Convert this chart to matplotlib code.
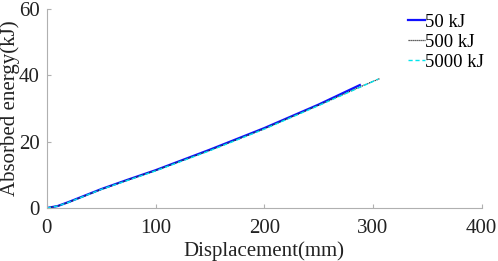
import matplotlib
matplotlib.use("Agg")
import matplotlib.pyplot as plt

plt.rcParams['font.family'] = ['Liberation Serif', 'DejaVu Serif']

# displacement (mm) and absorbed energy (kJ)
disp_50 = [0, 10, 20, 30, 40, 50, 75, 100, 150, 200, 250, 288]
energy_50 = [0, 0.6, 1.8, 3.1, 4.4, 5.7, 8.6, 11.4, 17.6, 24.1, 31.2, 37.1]

disp_500 = [0, 10, 20, 30, 40, 50, 75, 100, 150, 200, 250, 290, 306]
energy_500 = [0, 0.6, 1.7, 3.0, 4.3, 5.6, 8.5, 11.3, 17.4, 23.9, 31.0, 36.8, 39.0]

disp_5000 = [0, 10, 20, 30, 40, 50, 75, 100, 150, 200, 250, 290, 305]
energy_5000 = [0, 0.6, 1.7, 3.0, 4.3, 5.6, 8.4, 11.2, 17.3, 23.8, 30.9, 36.7, 38.9]

fig = plt.figure(figsize=(4.98, 2.61), dpi=100)
ax = fig.add_axes([0.094, 0.203, 0.873, 0.762])

ax.plot(disp_50, energy_50, color='#1010ff', lw=1.6, label='50 kJ')
ax.plot(disp_500, energy_500, color='#303030', lw=0.9, ls=(0, (1, 0.6)), label='500 kJ')
ax.plot(disp_5000, energy_5000, color='#00e5ee', lw=1.0, ls=(0, (3, 2)), label='5000 kJ')

ax.set_xlim(0, 400)
ax.set_ylim(0, 60)
ax.set_xticks([0, 100, 200, 300, 400])
ax.set_yticks([0, 20, 40, 60])

for s in ['top', 'right']:
    ax.spines[s].set_visible(False)
for s in ['left', 'bottom']:
    ax.spines[s].set_color('#b0b0b0')
    ax.spines[s].set_linewidth(0.8)
ax.tick_params(direction='in', length=3, width=0.8, color='#b0b0b0',
               labelsize=15, labelcolor='#222222')
ax.tick_params(axis='x', pad=8)
ax.tick_params(axis='y', pad=5)

ax.set_xlabel('Displacement(mm)', fontsize=15, color='#222222', labelpad=2)
ax.set_ylabel('Absorbed energy(kJ)', fontsize=15, color='#222222', labelpad=-1)

ax.legend(loc='upper right', bbox_to_anchor=(1.028, 1.025), frameon=False,
          fontsize=13.5, handlelength=0.9, handletextpad=0.05,
          labelspacing=0.15, borderaxespad=0.1)

fig.savefig('out.png', dpi=100)
